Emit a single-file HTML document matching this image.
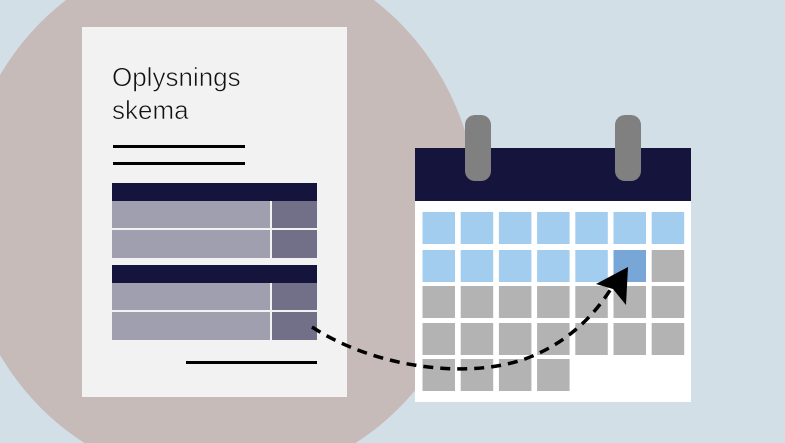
<!DOCTYPE html>
<html><head><style>
html,body{margin:0;padding:0;width:785px;height:443px;overflow:hidden;}
body{background:#d3dfe7;}
svg{display:block;position:absolute;left:0;top:0;}
</style></head><body>
<svg width="785" height="443" viewBox="0 0 785 443" xmlns="http://www.w3.org/2000/svg">
<rect width="785" height="443" fill="#d3dfe7"/>
<path d="M66,0 L374,0 A258,268 0 0,1 355.6,443 L84.4,443 A258,268 0 0,1 0,355 L0,75 A258,268 0 0,1 66,0 Z" fill="#c6bbb9"/>
<rect x="82" y="27" width="265" height="370" fill="#f2f2f2"/>
<text x="112" y="86" font-family="Liberation Sans, sans-serif" font-size="26" fill="#111" stroke="#f2f2f2" stroke-width="0.6">Oplysnings</text>
<text x="112" y="119" font-family="Liberation Sans, sans-serif" font-size="26" fill="#111" stroke="#f2f2f2" stroke-width="0.6">skema</text>
<rect x="113" y="145" width="132" height="3" fill="#000"/>
<rect x="113" y="162" width="132" height="3" fill="#000"/>
<g>
<rect x="112" y="183" width="205" height="18" fill="#15143c"/>
<rect x="112" y="201" width="158" height="27" fill="#a09fb0"/>
<rect x="272" y="201" width="45" height="27" fill="#717088"/>
<rect x="112" y="230" width="158" height="28" fill="#a09fb0"/>
<rect x="272" y="230" width="45" height="28" fill="#717088"/>
<rect x="112" y="265" width="205" height="18" fill="#15143c"/>
<rect x="112" y="283" width="158" height="27" fill="#a09fb0"/>
<rect x="272" y="283" width="45" height="27" fill="#717088"/>
<rect x="112" y="312" width="158" height="28" fill="#a09fb0"/>
<rect x="272" y="312" width="45" height="28" fill="#717088"/>
</g>
<rect x="186" y="361" width="131" height="3" fill="#000"/>
<rect x="415" y="201" width="276" height="201" fill="#fff"/>
<rect x="415" y="148" width="276" height="53" fill="#15143c"/>
<rect x="465" y="115" width="26" height="66" rx="10" fill="#808080"/>
<rect x="615" y="115" width="26" height="66" rx="10" fill="#808080"/>
<g>
<rect x="422.5" y="212" width="32.5" height="32" fill="#a3cdef"/>
<rect x="460.7" y="212" width="32.5" height="32" fill="#a3cdef"/>
<rect x="498.9" y="212" width="32.5" height="32" fill="#a3cdef"/>
<rect x="537.1" y="212" width="32.5" height="32" fill="#a3cdef"/>
<rect x="575.3" y="212" width="32.5" height="32" fill="#a3cdef"/>
<rect x="613.5" y="212" width="32.5" height="32" fill="#a3cdef"/>
<rect x="651.7" y="212" width="32.5" height="32" fill="#a3cdef"/>
<rect x="422.5" y="250" width="32.5" height="32" fill="#a3cdef"/>
<rect x="460.7" y="250" width="32.5" height="32" fill="#a3cdef"/>
<rect x="498.9" y="250" width="32.5" height="32" fill="#a3cdef"/>
<rect x="537.1" y="250" width="32.5" height="32" fill="#a3cdef"/>
<rect x="575.3" y="250" width="32.5" height="32" fill="#a3cdef"/>
<rect x="613.5" y="250" width="32.5" height="32" fill="#78a6d6"/>
<rect x="651.7" y="250" width="32.5" height="32" fill="#b3b3b3"/>
<rect x="422.5" y="286" width="32.5" height="32" fill="#b3b3b3"/>
<rect x="460.7" y="286" width="32.5" height="32" fill="#b3b3b3"/>
<rect x="498.9" y="286" width="32.5" height="32" fill="#b3b3b3"/>
<rect x="537.1" y="286" width="32.5" height="32" fill="#b3b3b3"/>
<rect x="575.3" y="286" width="32.5" height="32" fill="#b3b3b3"/>
<rect x="613.5" y="286" width="32.5" height="32" fill="#b3b3b3"/>
<rect x="651.7" y="286" width="32.5" height="32" fill="#b3b3b3"/>
<rect x="422.5" y="323" width="32.5" height="32" fill="#b3b3b3"/>
<rect x="460.7" y="323" width="32.5" height="32" fill="#b3b3b3"/>
<rect x="498.9" y="323" width="32.5" height="32" fill="#b3b3b3"/>
<rect x="537.1" y="323" width="32.5" height="32" fill="#b3b3b3"/>
<rect x="575.3" y="323" width="32.5" height="32" fill="#b3b3b3"/>
<rect x="613.5" y="323" width="32.5" height="32" fill="#b3b3b3"/>
<rect x="651.7" y="323" width="32.5" height="32" fill="#b3b3b3"/>
<rect x="422.5" y="359" width="32.5" height="32" fill="#b3b3b3"/>
<rect x="460.7" y="359" width="32.5" height="32" fill="#b3b3b3"/>
<rect x="498.9" y="359" width="32.5" height="32" fill="#b3b3b3"/>
<rect x="537.1" y="359" width="32.5" height="32" fill="#b3b3b3"/>
</g>
<path d="M312,327 C370,365 460,380 522,360 C566,345 595,315 612,287" fill="none" stroke="#000" stroke-width="3.5" stroke-dasharray="10,7"/>
<path d="M628,267 L596,284 L613,289 L626,305 Z" fill="#000"/>
</svg>
</body></html>
